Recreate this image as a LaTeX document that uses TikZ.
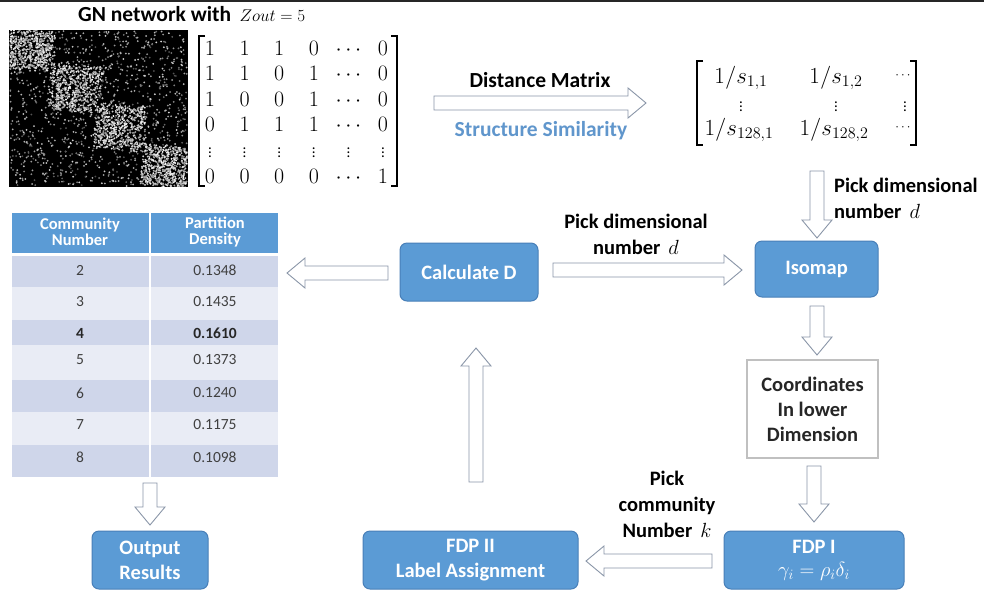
\documentclass[tikz,border=0pt]{standalone}
\usepackage{fix-cm}
\usepackage{amsmath}
\usepackage[no-math]{fontspec}
\setmainfont{Carlito}
\usetikzlibrary{calc,matrix}
\definecolor{boxblue}{RGB}{91,155,213}
\definecolor{boxedge}{RGB}{72,127,184}
\definecolor{arrowgray}{RGB}{138,150,168}
\definecolor{simblue}{RGB}{96,150,204}
\definecolor{rowdark}{RGB}{207,214,234}
\definecolor{rowlight}{RGB}{233,236,245}
\definecolor{cellfg}{RGB}{64,64,64}
\definecolor{coordedge}{RGB}{192,192,192}
\tikzset{
  bluebox/.style={draw=boxedge, line width=1pt, fill=boxblue, rounded corners=7pt,
    text=white, font=\fontsize{20.5}{25}\selectfont\bfseries, align=center, inner sep=0pt},
  lbl/.style={font=\fontsize{20.5}{26}\selectfont\bfseries, align=center, inner sep=0pt},
  cell/.style={font=\fontsize{15.5}{18}\selectfont, text=cellfg, inner sep=0pt},
  hcell/.style={font=\fontsize{16.5}{16.5}\selectfont\bfseries, text=white, align=center, inner sep=0pt},
  mtx/.style={font=\fontsize{23}{26}\selectfont, inner sep=0pt, anchor=center},
  barrow/.style={draw=arrowgray, fill=white, line width=0.9pt, line join=miter,
    to path={let \p1=(\tikztostart), \p2=(\tikztotarget),
      \n1={atan2(\y2-\y1,\x2-\x1)}, \n2={veclen(\x2-\x1,\y2-\y1)} in
      {[shift={(\p1)}, rotate=\n1]
        (0,-7) -- ({\n2-18},-7) -- ({\n2-18},-15) -- (\n2,0) -- ({\n2-18},15)
        -- ({\n2-18},7) -- (0,7) -- cycle}}}
}
\begin{document}
\begin{tikzpicture}[x=1pt,y=1pt]
\useasboundingbox (0,0) rectangle (984,-590);
\fill[white] (0,0) rectangle (984,-590);
\draw[black!85, line width=1.8pt] (0,-0.9) -- (984,-0.9);

% title
\node[lbl, anchor=base west, font=\fontsize{21.5}{26}\selectfont\bfseries] (title) at (78,-21) {GN network with\, \fontsize{17}{20}\selectfont\mdseries$Zout=5$};

% network image
\fill[black] (9,-30) rectangle (188,-187);
\begin{scope}
\clip (9.5,-30.5) rectangle (187.5,-186.5);
\pgfmathsetseed{42}
\foreach \i in {1,...,1150}{
  \pgfmathsetmacro\xx{10+177*rnd}
  \pgfmathsetmacro\yy{31+155*rnd}
  \pgfmathtruncatemacro\g{30+55*rnd}
  \fill[white!\g!black] (\xx,-\yy) circle (1.0);
}
\foreach \cx/\cy/\bw/\bh in {30/50/50/44, 75/88/54/50, 120/127/54/48, 165/166/50/44}{
  \foreach \i in {1,...,520}{
    \pgfmathsetmacro\u{2*rnd-1}
    \pgfmathsetmacro\v{2*rnd-1}
    \pgfmathsetmacro\w{rnd}
    \pgfmathsetmacro\xx{\cx+\bw/2*(0.8*\u+0.2*(\u-\v)/2)+4*(\w-0.5)}
    \pgfmathsetmacro\yy{\cy+\bh/2*(0.8*\v+0.2*(\u+\v)/2)+4*(\w-0.5)}
    \pgfmathtruncatemacro\g{55+45*rnd}
    \fill[white!\g!black] (\xx,-\yy) circle (1.05);
  }
}
\end{scope}

% adjacency matrix
\matrix (adj) [matrix of math nodes, nodes={mtx, font=\fontsize{22}{26}\selectfont, minimum width=30pt, text height=16pt, text depth=0pt},
  row 5/.style={nodes={font=\fontsize{15}{16}\selectfont}},
  column sep=4.6pt, row sep=9.6pt] at (296.5,-111) {
  1 & 1 & 1 & 0 & \cdots & 0\\
  1 & 1 & 0 & 1 & \cdots & 0\\
  1 & 0 & 0 & 1 & \cdots & 0\\
  0 & 1 & 1 & 1 & \cdots & 0\\
  \vdots & \vdots & \vdots & \vdots & \vdots & \vdots\\
  0 & 0 & 0 & 0 & \cdots & 1\\
};
\draw[line width=1.1pt] (205,-36) -- (199,-36) -- (199,-186) -- (205,-186);
\draw[line width=1.1pt] (391,-36) -- (397,-36) -- (397,-186) -- (391,-186);

% distance arrow
\coordinate (da1) at (434,-103);
\coordinate (da2) at (646,-103);
\draw[barrow] (da1) to (da2);
\node[lbl, font=\fontsize{21.5}{26}\selectfont\bfseries] (distlbl) at (540,-80) {Distance Matrix};
\node[lbl, text=simblue, font=\fontsize{21.5}{26}\selectfont\bfseries] (simlbl) at (541,-131) {Structure Similarity};

% similarity matrix
\node[mtx] (s11) at (741,-78) {$1/s_{1,1}$};
\node[mtx] (s12) at (836,-78) {$1/s_{1,2}$};
\node[mtx, font=\fontsize{13}{14}\selectfont] (s13) at (904,-76) {$\cdots$};
\node[mtx, font=\fontsize{15}{16}\selectfont] (s21) at (741,-104) {$\vdots$};
\node[mtx, font=\fontsize{15}{16}\selectfont] (s22) at (836,-104) {$\vdots$};
\node[mtx, font=\fontsize{15}{16}\selectfont] (s23) at (905,-104) {$\vdots$};
\node[mtx] (s31) at (739,-130) {$1/s_{128,1}$};
\node[mtx] (s32) at (834,-130) {$1/s_{128,2}$};
\node[mtx, font=\fontsize{13}{14}\selectfont] (s33) at (904,-128) {$\cdots$};
\draw[line width=1.1pt] (703,-61) -- (697,-61) -- (697,-145) -- (703,-145);
\draw[line width=1.1pt] (910,-61) -- (916,-61) -- (916,-145) -- (910,-145);

% boxes
\node[bluebox, minimum width=138pt, minimum height=58pt] (calc) at (469,-272) {Calculate D};
\node[bluebox, minimum width=123pt, minimum height=56pt] (iso) at (816.5,-269) {Isomap};
\node[draw=coordedge, line width=1.6pt, fill=white, minimum width=131pt, minimum height=98pt,
  font=\fontsize{20.5}{25}\selectfont\bfseries, align=center, inner sep=0pt, text=black!85] (coord) at (812.5,-409) {Coordinates\\In lower\\Dimension};
\node[bluebox, minimum width=180pt, minimum height=58pt] (fdp1) at (814,-560) {FDP I\\[-2pt]$\gamma_i=\rho_i\delta_i$};
\node[bluebox, minimum width=215pt, minimum height=58pt] (fdp2) at (470.5,-560) {FDP II\\Label Assignment};
\node[bluebox, minimum width=116pt, minimum height=58pt] (out) at (150,-560) {Output\\Results};

% table
\fill[boxblue] (12,-213) rectangle (278,-253);
\fill[rowdark] (12,-256) rectangle (278,-287);
\fill[rowlight] (12,-287) rectangle (278,-320);
\fill[rowdark] (12,-320) rectangle (278,-345);
\fill[rowlight] (12,-345) rectangle (278,-380);
\fill[rowdark] (12,-380) rectangle (278,-412);
\fill[rowlight] (12,-412) rectangle (278,-445);
\fill[rowdark] (12,-445) rectangle (278,-477);
\draw[white, line width=1.2pt] (150,-213) -- (150,-477);
\node[hcell] (h1) at (80,-232) {Community\\Number};
\node[hcell] (h2) at (215,-232) {Partition\\Density};
\node[cell] (r1a) at (80,-270) {2};   \node[cell] (r1b) at (215,-270) {0.1348};
\node[cell] (r2a) at (80,-302) {3};   \node[cell] (r2b) at (215,-302) {0.1435};
\node[cell, font=\fontsize{15.5}{18}\selectfont\bfseries, text=black!85] (r3a) at (80,-333) {4};
\node[cell, font=\fontsize{15.5}{18}\selectfont\bfseries, text=black!85] (r3b) at (215,-333) {0.1610};
\node[cell] (r4a) at (80,-360) {5};   \node[cell] (r4b) at (215,-360) {0.1373};
\node[cell] (r5a) at (80,-393) {6};   \node[cell] (r5b) at (215,-393) {0.1240};
\node[cell] (r6a) at (80,-425) {7};   \node[cell] (r6b) at (215,-425) {0.1175};
\node[cell] (r7a) at (80,-457) {8};   \node[cell] (r7b) at (215,-457) {0.1098};

% arrows
\coordinate (a2s) at (817,-171);  \coordinate (a2e) at (817,-238);
\draw[barrow] (a2s) to (a2e);
\node[lbl, anchor=west, align=left] (pd1) at (834,-198) {Pick dimensional\\number \,$d$};

\coordinate (a3s) at (553,-270);  \coordinate (a3e) at (742,-270);
\draw[barrow] (a3s) to (a3e);
\node[lbl] (pd2) at (636,-234) {Pick dimensional\\number \,$d$};

\coordinate (a4s) at (388,-273);  \coordinate (a4e) at (287,-273);
\draw[barrow] (a4s) to (a4e);

\coordinate (a5s) at (817,-306);  \coordinate (a5e) at (817,-355);
\draw[barrow] (a5s) to (a5e);

\coordinate (a6s) at (814,-466);  \coordinate (a6e) at (814,-522);
\draw[barrow] (a6s) to (a6e);

\coordinate (a7s) at (712,-561);  \coordinate (a7e) at (586,-561);
\draw[barrow] (a7s) to (a7e);
\node[lbl] (pk) at (667,-504) {Pick\\community\\Number \,$k$};

\coordinate (a8s) at (476,-482);  \coordinate (a8e) at (476,-348);
\draw[barrow] (a8s) to (a8e);

\coordinate (a9s) at (150,-483);  \coordinate (a9e) at (150,-525);
\draw[barrow] (a9s) to (a9e);
\end{tikzpicture}
\end{document}
